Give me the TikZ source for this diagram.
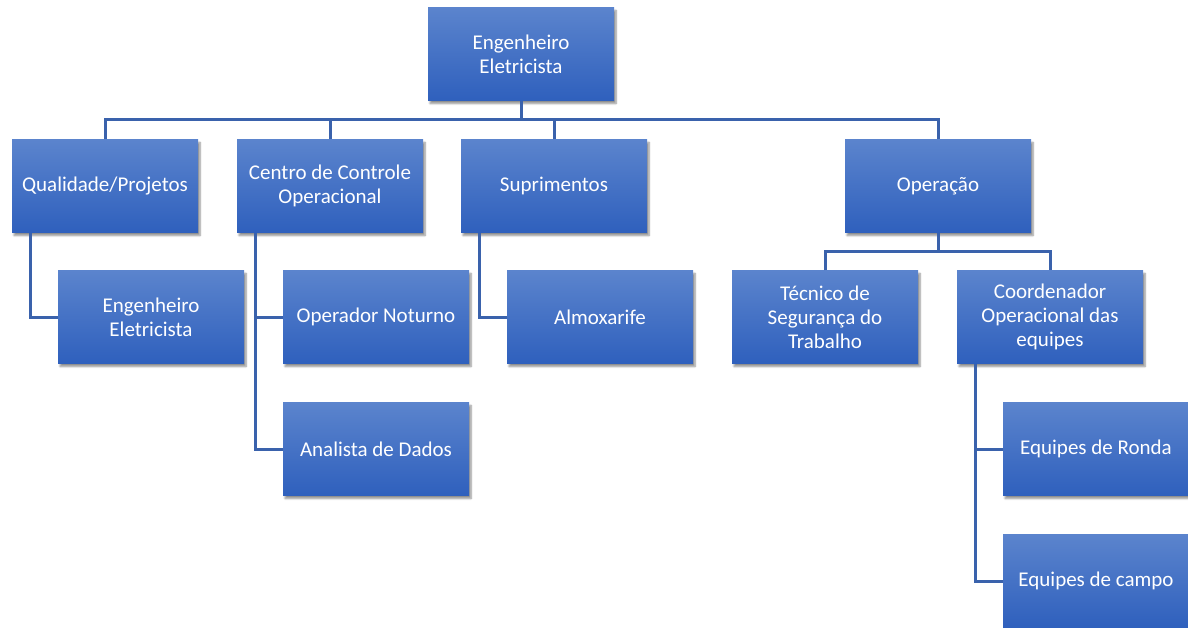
\documentclass[tikz,border=0pt]{standalone}
\usepackage{fontspec}
\setmainfont{Carlito}
\usetikzlibrary{shadows.blur,calc}

\definecolor{boxtop}{HTML}{5B84CD}
\definecolor{boxbot}{HTML}{2F60BD}
\definecolor{linkblue}{HTML}{3A62AC}

\tikzset{
  orgbox/.style={draw=none, top color=boxtop, bottom color=boxbot,
    minimum width=186pt, minimum height=93pt, text=white, align=center,
    font=\fontsize{21}{24}\selectfont,
    blur shadow={shadow xshift=2pt, shadow yshift=-3pt, shadow blur steps=6, shadow opacity=45}},
  link/.style={draw=linkblue, line width=3pt}
}

\begin{document}
\begin{tikzpicture}[x=1pt, y=-1pt]
	\useasboundingbox (0,0) rectangle (1188,628);
	
	% boxes
	\node[orgbox] (chefe) at (521,54) {Engenheiro\\Eletricista};
	
	\node[orgbox] (qual) at (105,186) {Qualidade/Projetos};
	\node[orgbox] (cco) at (330,186) {Centro de Controle\\Operacional};
	\node[orgbox] (supr) at (554,186) {Suprimentos};
	\node[orgbox] (oper) at (938,186) {Operação};
	
	\node[orgbox] (eng) at (151,317) {Engenheiro\\Eletricista};
	\node[orgbox] (noturno) at (376,317) {Operador Noturno};
	\node[orgbox] (dados) at (376,449) {Analista de Dados};
	\node[orgbox] (almox) at (600,317) {Almoxarife};
	\node[orgbox] (tecnico) at (825,317) {Técnico de\\Segurança do\\Trabalho};
	\node[orgbox] (coord) at (1050,317) {Coordenador\\Operacional das\\equipes};
	\node[orgbox] (ronda) at (1096,449) {Equipes de Ronda};
	\node[orgbox] (campo) at (1096,581) {Equipes de campo};
	
	% connectors
	\coordinate (bus) at (0,120);
	\coordinate (opbus) at (0,252);
	\draw[link] (chefe.south) -- (chefe.south|-bus);
	\draw[link] (qual.north) -- (qual.north|-bus) -- (oper.north|-bus) -- (oper.north);
	\draw[link] (cco.north) -- (cco.north|-bus);
	\draw[link] (supr.north) -- (supr.north|-bus);
	\draw[link] (oper.south) -- (oper.south|-opbus);
	\draw[link] (tecnico.north) -- (tecnico.north|-opbus) -- (coord.north|-opbus) -- (coord.north);
	
	\coordinate (qtrunk) at ($(qual.south west)+(19,0)$);
	\coordinate (ctrunk) at ($(cco.south west)+(19,0)$);
	\coordinate (strunk) at ($(supr.south west)+(19,0)$);
	\coordinate (etrunk) at ($(coord.south west)+(19,0)$);
	\draw[link] (qtrunk) |- (eng.west);
	\draw[link] (ctrunk) |- (noturno.west);
	\draw[link] (ctrunk) |- (dados.west);
	\draw[link] (strunk) |- (almox.west);
	\draw[link] (etrunk) |- (ronda.west);
	\draw[link] (etrunk) |- (campo.west);
\end{tikzpicture}
\end{document}
